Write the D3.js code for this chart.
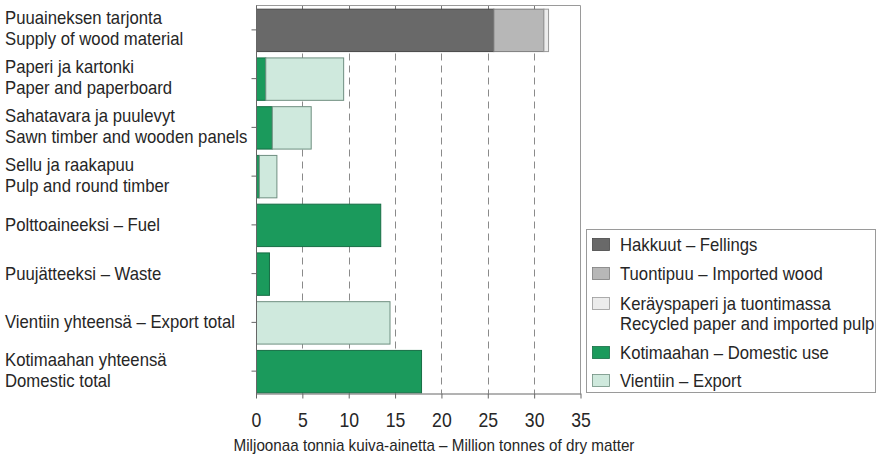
<!DOCTYPE html>
<html><head><meta charset="utf-8">
<script src="https://cdn.jsdelivr.net/npm/d3@7/dist/d3.min.js"></script>
<style>
html,body{margin:0;padding:0;background:#fff;}
svg{display:block;}
text{font-family:"Liberation Sans",Arial,sans-serif;fill:#262626;}
</style></head>
<body>
<svg id="chart" width="878" height="460"></svg>
<script>
// ---- data ----
const categories = [
  ["Puuaineksen tarjonta","Supply of wood material"],
  ["Paperi ja kartonki","Paper and paperboard"],
  ["Sahatavara ja puulevyt","Sawn timber and wooden panels"],
  ["Sellu ja raakapuu","Pulp and round timber"],
  ["Polttoaineeksi – Fuel"],
  ["Puujätteeksi – Waste"],
  ["Vientiin yhteensä – Export total"],
  ["Kotimaahan yhteensä","Domestic total"]
];
const fellings  = [25.6, 0, 0, 0, 0, 0, 0, 0];
const imported  = [5.4, 0, 0, 0, 0, 0, 0, 0];
const recycled  = [0.5, 0, 0, 0, 0, 0, 0, 0];
const domestic  = [0, 1.0, 1.7, 0.3, 13.4, 1.4, 0, 17.8];
const exportUse = [0, 8.4, 4.2, 1.9, 0, 0, 14.4, 0];
const seriesNames = [
  ["Hakkuut – Fellings"],
  ["Tuontipuu – Imported wood"],
  ["Keräyspaperi ja tuontimassa","Recycled paper and imported pulp"],
  ["Kotimaahan – Domestic use"],
  ["Vientiin – Export"]
];
const xTicks = [0,5,10,15,20,25,30,35];
const xTitle = "Miljoonaa tonnia kuiva-ainetta – Million tonnes of dry matter";

// ---- styles ----
const fills   = ["#696969","#b7b7b7","#ececec","#1b9a5c","#cfe9dd"];
const strokes = ["#474747","#7d7d7d","#9a9a9a","#176e45","#6f8f80"];

const svg = d3.select("#chart");
const pLeft = 256, pRight = 580.5, pTop = 5.5, pBottom = 393.5;

// horizontal condensation factor, so the sans font matches the narrow face
const probe = svg.append("text").attr("font-size", 18).text(categories[0][0]);
const sx = Math.min(1, 157 / probe.node().getComputedTextLength());
probe.remove();

function addText(parent, str, xPos, yPos, size, anchor) {
  return parent.append("text")
    .attr("transform", `translate(${xPos},${yPos}) scale(${sx},1)`)
    .attr("font-size", size).attr("text-anchor", anchor || "start").text(str);
}

const x = d3.scaleLinear().domain([0,35]).range([pLeft, pRight]);
const y = d3.scaleBand().domain(d3.range(categories.length))
  .range([5.5, 395.5]).paddingInner(0.13).paddingOuter(0.065);

const inner = xTicks.filter(d => d > 0 && d < 35);
// gridlines
svg.append("g").selectAll("line").data(inner).join("line")
  .attr("x1", d => Math.round(x(d)) + 0.5).attr("x2", d => Math.round(x(d)) + 0.5)
  .attr("y1", pTop).attr("y2", pBottom)
  .attr("stroke", "#8a8a8a").attr("stroke-width", 1).attr("stroke-dasharray", "7,5");

// top ticks
svg.append("g").selectAll("line").data(inner).join("line")
  .attr("x1", d => Math.round(x(d)) + 0.5).attr("x2", d => Math.round(x(d)) + 0.5)
  .attr("y1", pTop).attr("y2", pTop + 4).attr("stroke", "#777");

// stacked bars
const seriesData = [fellings, imported, recycled, domestic, exportUse];
const stack = d3.stack().keys(d3.range(seriesData.length)).value((i, k) => seriesData[k][i]);
const stacked = stack(d3.range(categories.length));
stacked.forEach((layer, k) => {
  svg.append("g").selectAll("rect").data(layer.map((d, i) => ({d, i})).filter(o => o.d[1] - o.d[0] > 0)).join("rect")
    .attr("x", o => x(o.d[0]) + 0.5)
    .attr("y", o => y(o.i) + 0.5)
    .attr("width", o => x(o.d[1]) - x(o.d[0]))
    .attr("height", y.bandwidth())
    .attr("fill", fills[k]).attr("stroke", strokes[k]).attr("stroke-width", 1);
});

// frame
svg.append("path")
  .attr("d", `M${pLeft},${pTop}H${pRight}V${pBottom}`)
  .attr("fill", "none").attr("stroke", "#9a9a9a").attr("stroke-width", 1);

// x axis
const xAxis = svg.append("g").attr("transform", `translate(0,${pBottom})`)
  .call(d3.axisBottom(x).tickValues(xTicks).tickSize(5).tickPadding(14).tickSizeOuter(0));
xAxis.select(".domain").attr("stroke", "#666");
xAxis.selectAll(".tick line").attr("stroke", "#666");
xAxis.selectAll(".tick text").attr("font-size", 20).attr("fill", "#262626")
  .attr("font-family", '"Liberation Sans",Arial,sans-serif')
  .attr("transform", `scale(${sx * 0.95},1)`);

// y axis (ticks only)
const yAxis = svg.append("g").attr("transform", `translate(${pLeft+0.5},0)`)
  .call(d3.axisLeft(y).tickSize(5).tickFormat(() => "").tickSizeOuter(0));
yAxis.select(".domain").attr("stroke", "#666").attr("d", `M0,${pTop}V${pBottom + 4}`);
yAxis.selectAll(".tick line").attr("stroke", "#666");

// category labels
const lab = svg.append("g");
categories.forEach((lines, i) => {
  const cy = y(i) + y.bandwidth() / 2;
  if (lines.length === 1) {
    addText(lab, lines[0], 5, cy + 6, 18);
  } else {
    addText(lab, lines[0], 5, cy - 5.5, 18);
    addText(lab, lines[1], 5, cy + 15.5, 18);
  }
});

// x title
addText(svg, xTitle, 434, 451, 16.4, "middle");

// legend
const lg = svg.append("g");
lg.append("rect").attr("x", 586.5).attr("y", 229.5).attr("width", 289).attr("height", 163)
  .attr("fill", "#fff").attr("stroke", "#9a9a9a");
const rowY = [245, 274, 304, 353, 381];
seriesNames.forEach((names, k) => {
  const cy = rowY[k];
  lg.append("rect").attr("x", 592.5).attr("y", cy - 6.5).attr("width", 17).attr("height", 12)
    .attr("fill", fills[k]).attr("stroke", strokes[k]).attr("stroke-width", 0.8);
  names.forEach((n, j) => {
    addText(lg, n, 620, cy + 6 + j * 20, 18);
  });
});
</script>
</body></html>
